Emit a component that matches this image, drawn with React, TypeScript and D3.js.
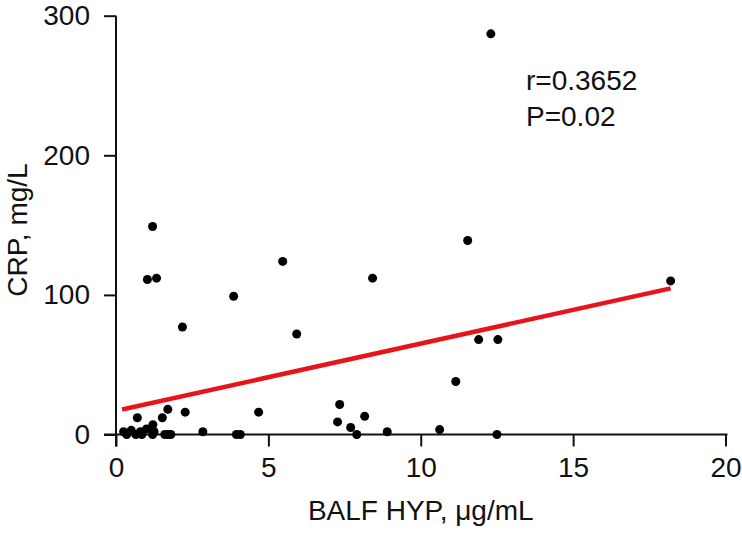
import React, { useEffect, useRef } from "react";
import * as d3 from "d3";

const xValues = [
  12.3, 1.2, 1.03, 1.33, 5.47, 3.86, 2.18, 5.93, 8.42, 11.54, 11.9, 12.53, 11.15, 18.2,
  10.62, 12.5, 4.68, 7.34, 7.27, 8.16, 7.7, 7.9, 8.9, 3.95, 4.08, 2.85, 2.27,
  0.7, 1.21, 1.52, 1.7, 0.25, 0.35, 0.5, 0.65, 0.8, 0.85, 1.0, 1.2, 1.25, 1.6, 1.7, 1.8,
];
const yValues = [
  287, 149, 111, 112, 124, 99, 77, 72, 112, 139, 68, 68, 38, 110,
  3.5, 0, 16, 21.5, 9, 13, 5, 0, 2, 0, 0, 2, 16,
  12, 7, 12, 18, 2, 0, 3, 0, 2, 0, 4, 0, 2, 0, 0, 0,
];
const fitX = [0.2, 18.2];
const fitY = [17.9, 104.7];
const xTicks = [0, 5, 10, 15, 20];
const yTicks = [0, 100, 200, 300];
const statLines = ["r=0.3652", "P=0.02"];
const xLabel = "BALF HYP, μg/mL";
const yLabel = "CRP, mg/L";

export default function App() {
  const ref = useRef<SVGSVGElement>(null);
  useEffect(() => {
    const svg = d3.select(ref.current);
    svg.selectAll("*").remove();
    const font = "'Liberation Sans', Arial, Helvetica, sans-serif";
    const fs = 28;
    const x = d3.scaleLinear().domain([0, 20]).range([116, 725.5]);
    const y = d3.scaleLinear().domain([0, 300]).range([434.5, 15.7]);

    const xa = svg
      .append("g")
      .attr("transform", `translate(0,${y(0)})`)
      .call(d3.axisBottom(x).tickValues(xTicks).tickSize(12).tickSizeOuter(0).tickPadding(11));
    const ya = svg
      .append("g")
      .attr("transform", `translate(${x(0)},0)`)
      .call(d3.axisLeft(y).tickValues(yTicks).tickSize(12).tickSizeOuter(0).tickPadding(14));
    [xa, ya].forEach((g) => {
      g.selectAll("path,line").attr("stroke", "#111").attr("stroke-width", 2);
      g.selectAll("text")
        .attr("font-family", font)
        .attr("font-size", fs)
        .attr("fill", "#111");
    });
    xa.select(".domain").attr("d", `M${x(0) - 12},0H${x(20) + 2}`);
    ya.select(".domain").attr("d", `M0,${y(300)}V${y(0) + 12}`);

    const line = d3
      .line<number>()
      .x((d) => x(d))
      .y((_, i) => y(fitY[i]));
    svg
      .append("path")
      .attr("d", line(fitX))
      .attr("fill", "none")
      .attr("stroke", "#e8141c")
      .attr("stroke-width", 4.5);

    svg
      .append("g")
      .selectAll("circle")
      .data(xValues)
      .join("circle")
      .attr("cx", (d) => x(d))
      .attr("cy", (_, i) => y(yValues[i]))
      .attr("r", 4.5)
      .attr("fill", "#000");

    svg
      .append("g")
      .selectAll("text")
      .data(statLines)
      .join("text")
      .attr("x", 526)
      .attr("y", (_, i) => 90 + i * 36)
      .attr("font-family", font)
      .attr("font-size", fs)
      .attr("fill", "#111")
      .text((d) => d);

    svg
      .append("text")
      .attr("x", x(10))
      .attr("y", 520)
      .attr("text-anchor", "middle")
      .attr("font-family", font)
      .attr("font-size", fs)
      .attr("fill", "#111")
      .text(xLabel);

    svg
      .append("text")
      .attr("transform", `translate(27,230) rotate(-90)`)
      .attr("text-anchor", "middle")
      .attr("font-family", font)
      .attr("font-size", fs)
      .attr("fill", "#111")
      .text(yLabel);
  }, []);
  return (
    <svg
      ref={ref}
      width={742}
      height={533}
      style={{ position: "absolute", left: 0, top: 0, background: "#fff" }}
    />
  );
}
